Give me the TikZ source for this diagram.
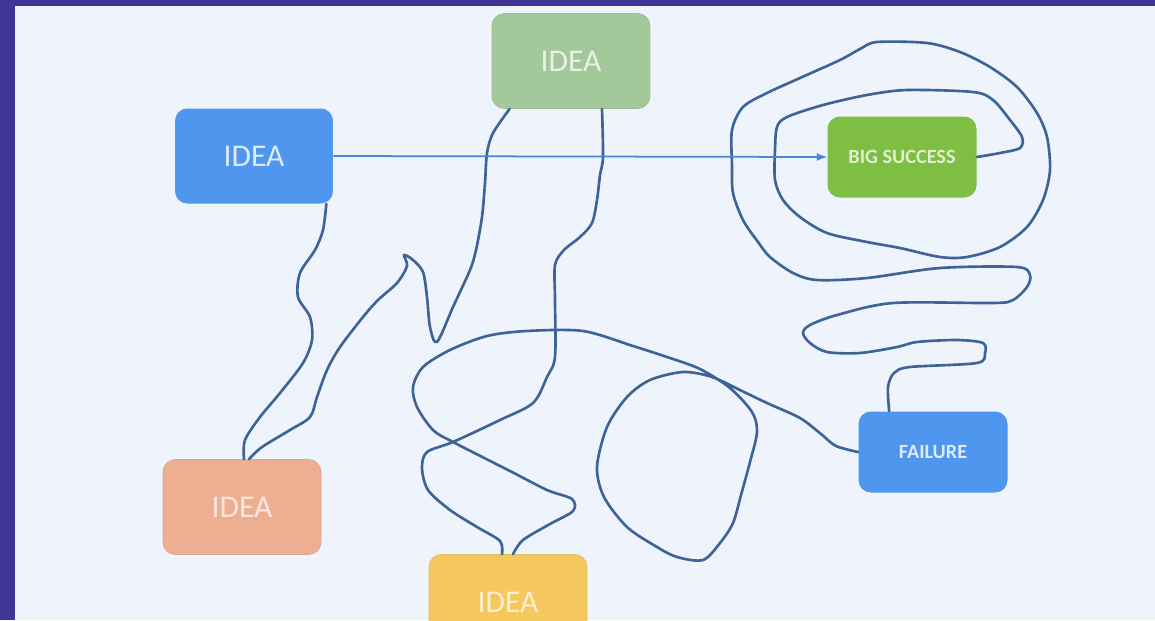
\documentclass[tikz,border=0pt]{standalone}
\usepackage{fontspec}
\setmainfont{Carlito}
\usepackage{tikz}
\usetikzlibrary{arrows}

\definecolor{framepurple}{RGB}{63,53,150}
\definecolor{panelwhite}{RGB}{238,243,252}
\definecolor{ideablue}{RGB}{79,150,238}
\definecolor{ideagreen}{RGB}{163,200,154}
\definecolor{ideasalmon}{RGB}{238,174,146}
\definecolor{ideayellow}{RGB}{244,200,92}
\definecolor{successgreen}{RGB}{125,190,67}
\definecolor{scribbleblue}{RGB}{62,100,150}
\definecolor{arrowblue}{RGB}{74,134,216}

\tikzset{
  box/.style={rectangle, rounded corners=7pt, inner sep=0pt, minimum width=3.16cm,
    minimum height=1.9cm, font=\fontsize{18}{20}\selectfont},
  smallbox/.style={box, minimum width=2.98cm, minimum height=1.62cm,
    font=\fontsize{11.5}{13}\selectfont\bfseries},
  scribble/.style={draw=scribbleblue, line width=1.5pt, line cap=round, line join=round},
}

\begin{document}
\begin{tikzpicture}[x=0.02cm, y=-0.02cm]
\useasboundingbox (0,0) rectangle (1155,620);
\fill [framepurple] (0,0) rectangle (1155,620);
\fill [panelwhite] (15,6) rectangle (1155,620);

\node [box, fill=ideablue, text=ideablue!20] (ideaA) at (254,156) {IDEA};
\node [box, fill=ideagreen, draw=ideagreen!85!gray, text=ideagreen!25] (ideaB) at (571,61) {IDEA};
\node [box, fill=ideasalmon, draw=ideasalmon!85!gray, text=ideasalmon!30] (ideaC) at (242,507) {IDEA};
\node [box, fill=ideayellow, draw=ideayellow!85!gray, text=ideayellow!30] (ideaD) at (508,602) {IDEA};
\node [smallbox, fill=successgreen, text=successgreen!25] (success) at (902,157) {BIG SUCCESS};
\node [smallbox, fill=ideablue, text=ideablue!20] (failure) at (933,452) {FAILURE};

\draw [scribble] plot [smooth, tension=0.5] coordinates {([xshift=-0.14cm]ideaA.south east)
  (323,230) (315,250) (300,273) (298,297) (310,317) (312,340) (303,363) (280,393) (260,417)
  (245,440) ([xshift=0.04cm]ideaC.north)};
\draw [scribble] plot [smooth, tension=0.5] coordinates {([xshift=0.14cm]ideaC.north)
  (262,447) (290,430) (310,417) (317,397) (327,370) (340,347) (363,317) (378,300) (397,283)
  (407,266) (404,255) (413,260) (423,272) (427,297) (430,327) (437,342) (453,307) (470,270)
  (476,250) (482,217) (485,183) (487,153) (493,133) ([xshift=0.36cm]ideaB.south west)};
\draw [scribble] plot [smooth, tension=0.5] coordinates {([xshift=0.62cm]ideaB.south)
  (603,157) (600,175) (597,200) (592,223) (580,237) (564,250) (555,265) (555,300) (555,357)
  (547,377) (533,403) (500,420) (453,442) (427,452) (422,468) (428,490) (450,510) (477,527)
  (500,541) ([xshift=-0.12cm]ideaD.north)};
\draw [scribble] plot [smooth, tension=0.5] coordinates {([xshift=0.1cm]ideaD.north)
  (523,540) (550,524) (573,511) (572,499) (547,490) (510,471) (453,442) (433,430) (417,407)
  (413,387) (423,367) (450,350) (487,336) (527,331) (583,331) (633,346) (667,357) (700,369)
  (730,388) (752,412) (757,432) (750,462) (741,495) (733,523) (720,543) (703,560) (677,557)
  (657,547) (627,527) (604,497) (597,467) (607,427) (627,397) (650,380) (683,372) (712,377)
  (742,391) (767,403) (800,418) (821,434) (836,446) (failure.west)};
\draw [scribble] plot [smooth, tension=0.5] coordinates {([xshift=0.62cm]failure.north west)
  (888,387) (894,373) (910,367) (977,363) (985,353) (983,343) (957,340) (917,342) (897,347)
  (860,353) (827,352) (810,343) (803,333) (810,325) (837,315) (893,303) (993,303) (1013,300)
  (1027,287) (1030,275) (1017,267) (940,268) (867,278) (817,280) (793,273) (770,257)
  (758,242) (743,220) (733,193) (732,165) (732,130) (743,107) (767,93) (800,78) (840,60)
  (860,49) (877,42) (927,43) (960,52) (990,67) (1017,87) (1037,113) (1047,137) (1050,170)
  (1043,200) (1027,227) (1000,247) (967,257) (940,257) (900,248) (867,242) (827,233)
  (800,217) (783,200) (775,180) (775,150) (777,127) (787,117) (823,105) (867,95) (907,90)
  (973,92) (993,100) (1010,120) (1022,137) (1020,148) (1000,153) (success.east)};

\draw [arrowblue, line width=1pt, -latex] (ideaA.east) -- (success.west);
\end{tikzpicture}
\end{document}
